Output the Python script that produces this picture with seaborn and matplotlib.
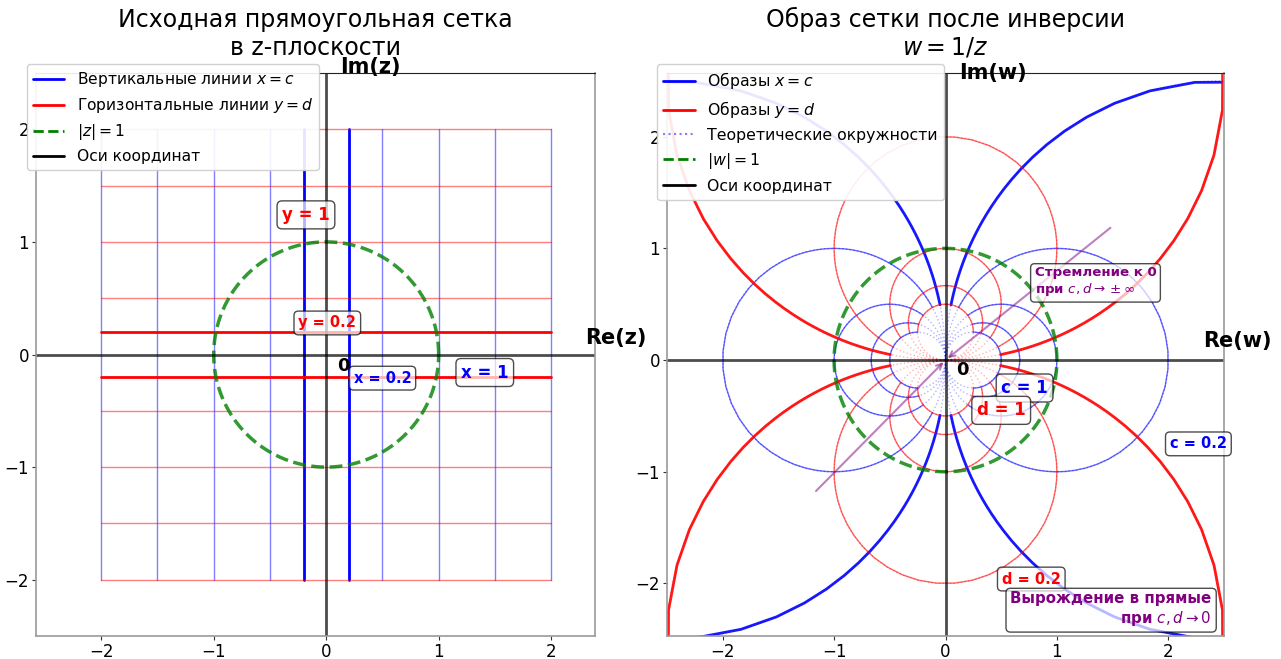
import numpy as np
import matplotlib
matplotlib.use("Agg")
import matplotlib.pyplot as plt
import seaborn as sns
from matplotlib.lines import Line2D

# ---- data ----
c_values = [-2, -1.5, -1, -0.5, -0.2, 0.2, 0.5, 1, 1.5, 2]   # vertical lines x = c
d_values = [-2, -1.5, -1, -0.5, -0.2, 0.2, 0.5, 1, 1.5, 2]   # horizontal lines y = d
highlight_values = [-0.2, 0.2]
segment_range = [-2, 2]
n_points = 100
tick_values = [-2, -1, 0, 1, 2]

sns.set_style("ticks")
plt.rcParams["font.family"] = ["DejaVu Sans"]
plt.rcParams["mathtext.fontset"] = "dejavusans"
plt.rcParams["text.color"] = "black"
plt.rcParams["xtick.color"] = "black"
plt.rcParams["ytick.color"] = "black"

fig = plt.figure(figsize=(12.81, 6.59), dpi=100)
W, H = 1281, 659
axL = fig.add_axes([36 / W, 23 / H, 559 / W, 563 / H])
axR = fig.add_axes([667 / W, 23 / H, 557 / W, 563 / H])

t = np.linspace(segment_range[0], segment_range[1], n_points)
theta = np.linspace(0, 2 * np.pi, 300)


def line(ax, x, y, **kw):
    sns.lineplot(x=x, y=y, sort=False, estimator=None, ax=ax, legend=False, **kw)


box = dict(boxstyle="round,pad=0.3", facecolor="white", edgecolor="black", alpha=0.7)

# ---------------- left: z-plane ----------------
for c in c_values:
    hl = c in highlight_values
    line(axL, np.full_like(t, c), t, color="blue",
         lw=2 if hl else 1, alpha=1 if hl else 0.5)
for d in d_values:
    hl = d in highlight_values
    line(axL, t, np.full_like(t, d), color="red",
         lw=2 if hl else 1, alpha=1 if hl else 0.5)
line(axL, np.cos(theta), np.sin(theta), color="green", lw=2.5, ls="--", alpha=0.8)
axL.axhline(0, color="black", lw=2, alpha=0.7)
axL.axvline(0, color="black", lw=2, alpha=0.7)

axL.text(-0.18, 1.24, "y = 1", color="red", fontsize=12, fontweight="bold",
         ha="center", va="center", bbox=box)
axL.text(0.01, 0.28, "y = 0.2", color="red", fontsize=10.5, fontweight="bold",
         ha="center", va="center", bbox=box)
axL.text(0.50, -0.21, "x = 0.2", color="blue", fontsize=10.5, fontweight="bold",
         ha="center", va="center", bbox=box)
axL.text(1.41, -0.16, "x = 1", color="blue", fontsize=12, fontweight="bold",
         ha="center", va="center", bbox=box)
axL.text(0.15, -0.10, "0", fontsize=13, fontweight="bold", ha="center", va="center")
axL.text(2.30, 0.15, "Re(z)", fontsize=15, fontweight="bold", ha="left", va="center")
axL.text(0.12, 2.55, "Im(z)", fontsize=15, fontweight="bold", ha="left", va="center")

axL.set_xlim(-2.58, 2.39)
axL.set_ylim(-2.5, 2.5)
axL.set_title("Исходная прямоугольная сетка\nв z-плоскости", fontsize=17, pad=13)

legL = [
    Line2D([], [], color="blue", lw=2, label="Вертикальные линии $x = c$"),
    Line2D([], [], color="red", lw=2, label="Горизонтальные линии $y = d$"),
    Line2D([], [], color="green", lw=2, ls="--", label="$|z| = 1$"),
    Line2D([], [], color="black", lw=2, label="Оси координат"),
]
axL.legend(handles=legL, loc="upper left", bbox_to_anchor=(-0.016, 1.016),
           borderaxespad=0, fontsize=11.2, framealpha=0.9, labelspacing=0.45)

# ---------------- right: w-plane ----------------
for c in c_values:
    cx, r = 1 / (2 * c), 1 / (2 * abs(c))
    line(axR, cx + r * np.cos(theta), r * np.sin(theta), color="blue", lw=1, ls=":", alpha=0.3)
for d in d_values:
    cy, r = -1 / (2 * d), 1 / (2 * abs(d))
    line(axR, r * np.cos(theta), cy + r * np.sin(theta), color="red", lw=1, ls=":", alpha=0.3)

for c in c_values:
    hl = c in highlight_values
    w = 1 / (c + 1j * t)
    line(axR, w.real, w.imag, color="blue", lw=2 if hl else 1, alpha=0.9 if hl else 0.6)
for d in d_values:
    hl = d in highlight_values
    w = 1 / (t + 1j * d)
    line(axR, w.real, w.imag, color="red", lw=2 if hl else 1, alpha=0.9 if hl else 0.6)

line(axR, np.cos(theta), np.sin(theta), color="green", lw=2.5, ls="--", alpha=0.8)
axR.axhline(0, color="black", lw=2, alpha=0.7)
axR.axvline(0, color="black", lw=2, alpha=0.7)

arrow = dict(arrowstyle="->", color="purple", alpha=0.5, lw=1.5)
axR.annotate("", xy=(0, 0), xytext=(1.5, 1.2), arrowprops=arrow)
axR.annotate("", xy=(0, 0), xytext=(-1.18, -1.19), arrowprops=arrow)

axR.text(0.71, -0.25, "c = 1", color="blue", fontsize=12, fontweight="bold",
         ha="center", va="center", bbox=box)
axR.text(0.50, -0.45, "d = 1", color="red", fontsize=12, fontweight="bold",
         ha="center", va="center", bbox=box)
axR.text(2.27, -0.75, "c = 0.2", color="blue", fontsize=10.5, fontweight="bold",
         ha="center", va="center", bbox=box)
axR.text(0.77, -1.96, "d = 0.2", color="red", fontsize=10.5, fontweight="bold",
         ha="center", va="center", bbox=box)
axR.text(0.80, 0.70, "Стремление к 0\nпри $c, d \\to \\pm\\infty$", color="purple",
         fontsize=9.6, fontweight="bold", ha="left", va="center", bbox=box)
axR.text(2.39, -2.23, "Вырождение в прямые\nпри $c, d \\to 0$", color="purple",
         fontsize=10.8, fontweight="bold", ha="right", va="center", multialignment="right",
         bbox=box)
axR.text(0.15, -0.09, "0", fontsize=13, fontweight="bold", ha="center", va="center")
axR.text(2.31, 0.17, "Re(w)", fontsize=15, fontweight="bold", ha="left", va="center")
axR.text(0.12, 2.57, "Im(w)", fontsize=15, fontweight="bold", ha="left", va="center")

axR.set_xlim(-2.5, 2.5)
axR.set_ylim(-2.47, 2.57)
axR.set_title("Образ сетки после инверсии\n$w = 1/z$", fontsize=17, pad=13)

legR = [
    Line2D([], [], color="blue", lw=2, label="Образы $x = c$"),
    Line2D([], [], color="red", lw=2, label="Образы $y = d$"),
    Line2D([], [], color="blue", lw=1.5, ls=":", alpha=0.5, label="Теоретические окружности"),
    Line2D([], [], color="green", lw=2, ls="--", label="$|w| = 1$"),
    Line2D([], [], color="black", lw=2, label="Оси координат"),
]
axR.legend(handles=legR, loc="upper left", bbox_to_anchor=(-0.018, 1.016),
           borderaxespad=0, fontsize=11.3, framealpha=0.9, labelspacing=0.5)

for ax in (axL, axR):
    ax.set_xticks(tick_values)
    ax.set_yticks(tick_values)
    ax.tick_params(labelsize=12, length=3, pad=2, color="#333")
    for s in ("left", "bottom", "right"):
        ax.spines[s].set_color("#999")
        ax.spines[s].set_linewidth(1.2)
    ax.spines["top"].set_color("#222")
    ax.set_xlabel("")
    ax.set_ylabel("")

fig.savefig("out.png", dpi=100)
